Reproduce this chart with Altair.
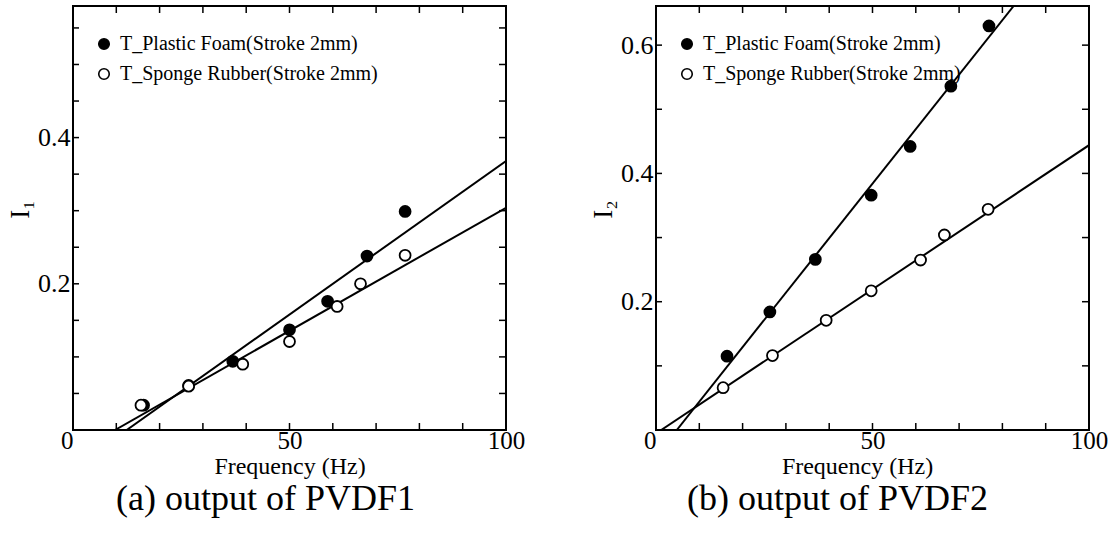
import altair as alt
import pandas as pd

LEG = ["T_Plastic Foam(Stroke 2mm)", "T_Sponge Rubber(Stroke 2mm)"]
SERIF = "Liberation Serif"

# ---- (a) output of PVDF1 ----
a_pf_f = [16.3, 26.7, 36.9, 50.0, 58.8, 67.9, 76.7]
a_pf_i = [0.034, 0.061, 0.094, 0.137, 0.176, 0.238, 0.299]
a_sr_f = [15.7, 26.7, 39.2, 50.0, 61.0, 66.4, 76.7]
a_sr_i = [0.034, 0.060, 0.090, 0.121, 0.169, 0.200, 0.239]
a_fit_pf_f = [12.4, 100.0]
a_fit_pf_i = [0.0, 0.368]
a_fit_sr_f = [9.7, 100.0]
a_fit_sr_i = [0.0, 0.304]
a_ymax = 0.58
a_ylabels = [0.2, 0.4]
a_yticks = [0.05, 0.10, 0.15, 0.20, 0.25, 0.30, 0.35, 0.40, 0.45, 0.50, 0.55]

# ---- (b) output of PVDF2 ----
b_pf_f = [16.4, 26.3, 36.8, 49.7, 58.7, 68.1, 76.9]
b_pf_i = [0.115, 0.184, 0.266, 0.366, 0.442, 0.536, 0.630]
b_sr_f = [15.5, 26.9, 39.3, 49.7, 61.1, 66.6, 76.7]
b_sr_i = [0.066, 0.116, 0.171, 0.217, 0.265, 0.304, 0.344]
b_fit_pf_f = [4.8, 82.6]
b_fit_pf_i = [0.0, 0.661]
b_fit_sr_f = [1.2, 100.0]
b_fit_sr_i = [0.0, 0.444]
b_ymax = 0.661
b_ylabels = [0.2, 0.4, 0.6]
b_yticks = [0.1, 0.2, 0.3, 0.4, 0.5, 0.6]

x_labels = [0, 50, 100]
x_ticks = [10, 20, 30, 40, 50, 60, 70, 80, 90]

W, H = 433, 424


def panel(pf_f, pf_i, sr_f, sr_i, fpf_f, fpf_i, fsr_f, fsr_i, ymax, ylabels, yticks,
          ytitle, caption, xtitle_x, cap_dx):
    pts = pd.DataFrame({
        "f": pf_f + sr_f,
        "i": pf_i + sr_i,
        "s": [LEG[0]] * len(pf_f) + [LEG[1]] * len(sr_f),
    })
    fit = pd.DataFrame({
        "f": fpf_f + fsr_f,
        "i": fpf_i + fsr_i,
        "s": [LEG[0]] * len(fpf_f) + [LEG[1]] * len(fsr_f),
    })
    xs = alt.Scale(domain=[0, 100], nice=False, zero=False)
    ys = alt.Scale(domain=[0, ymax], nice=False, zero=False)
    xaxis = alt.Axis(
        values=x_labels, title="Frequency (Hz)", format="d",
        labelFont=SERIF, labelFontSize=25, labelColor="black",
        labelAlign={"condition": {"test": "datum.value == 0", "value": "right"}, "value": "center"},
        labelPadding=-2, titleY=43, titleBaseline="alphabetic",
        titleFont=SERIF, titleFontSize=24, titleFontWeight="normal", titleColor="black",
        **({"titleX": xtitle_x} if xtitle_x is not None else {}),
    )
    yaxis = alt.Axis(
        values=ylabels, title=ytitle, format=".1f", labelPadding=3,
        labelFont=SERIF, labelFontSize=26, labelColor="black",
        titleAngle=270, titleX=-53, titleY=203, titleAlign="center", titleBaseline="middle",
        titleFont=SERIF, titleFontSize=27, titleFontWeight="normal", titleColor="black",
    )
    X = alt.X("f:Q", scale=xs, axis=xaxis)
    Y = alt.Y("i:Q", scale=ys, axis=yaxis)

    lines = alt.Chart(fit).mark_line(color="black", strokeWidth=2, clip=True).encode(
        x=X, y=Y, detail="s:N")
    points = alt.Chart(pts).mark_point(
        shape="circle", size=120, stroke="black", strokeWidth=1.8, opacity=1, filled=True
    ).encode(
        x=X, y=Y,
        fill=alt.Fill("s:N", scale=alt.Scale(domain=LEG, range=["black", "white"]),
                      legend=alt.Legend(title=None, orient="none", legendX=21, legendY=28,
                                        labelFont=SERIF, labelFontSize=20, labelColor="black",
                                        labelLimit=0,
                                        symbolType="circle", symbolSize=110,
                                        symbolStrokeColor="black", symbolStrokeWidth=1.6,
                                        symbolOpacity=1, rowPadding=10, labelOffset=6,
                                        padding=0)),
        order=alt.Order("s:N"),
    )
    xt = pd.DataFrame({"f": x_ticks})
    yt = pd.DataFrame({"i": yticks})
    tb = alt.Chart(xt).mark_rule(color="black", strokeWidth=1.5).encode(
        x=X, y=alt.value(H), y2=alt.value(H - 7))
    tt = alt.Chart(xt).mark_rule(color="black", strokeWidth=1.5).encode(
        x=X, y=alt.value(0), y2=alt.value(7))
    tl = alt.Chart(yt).mark_rule(color="black", strokeWidth=1.5).encode(
        y=Y, x=alt.value(0), x2=alt.value(6))
    tr = alt.Chart(yt).mark_rule(color="black", strokeWidth=1.5).encode(
        y=Y, x=alt.value(W), x2=alt.value(W - 7))
    return alt.layer(tb, tt, tl, tr, lines, points).properties(
        width=W, height=H,
        title=alt.TitleParams(text=caption, orient="bottom", anchor="middle", frame="group",
                              font=SERIF, fontSize=36, fontWeight="normal", color="black",
                              dx=cap_dx, offset=4),
    )


left = panel(a_pf_f, a_pf_i, a_sr_f, a_sr_i, a_fit_pf_f, a_fit_pf_i, a_fit_sr_f, a_fit_sr_i,
             a_ymax, a_ylabels, a_yticks, "I₁", "(a) output of PVDF1", None, -24)
right = panel(b_pf_f, b_pf_i, b_sr_f, b_sr_i, b_fit_pf_f, b_fit_pf_i, b_fit_sr_f, b_fit_sr_i,
              b_ymax, b_ylabels, b_yticks, "I₂", "(b) output of PVDF2", 201, -35)

chart = alt.hconcat(left, right, spacing=150, bounds="flush").resolve_scale(
    x="independent", y="independent", fill="independent"
).resolve_legend(fill="independent").properties(
    padding={"left": 5, "top": 4, "right": 0, "bottom": 0},
    background="white",
).configure_view(
    stroke="black", strokeWidth=2
).configure_axis(
    domain=False, ticks=False, grid=False,
    labelFont=SERIF, labelColor="black",
    titleFont=SERIF, titleFontWeight="normal", titleColor="black",
)

chart.save("out.html", embed_options={"renderer": "svg", "actions": False})
